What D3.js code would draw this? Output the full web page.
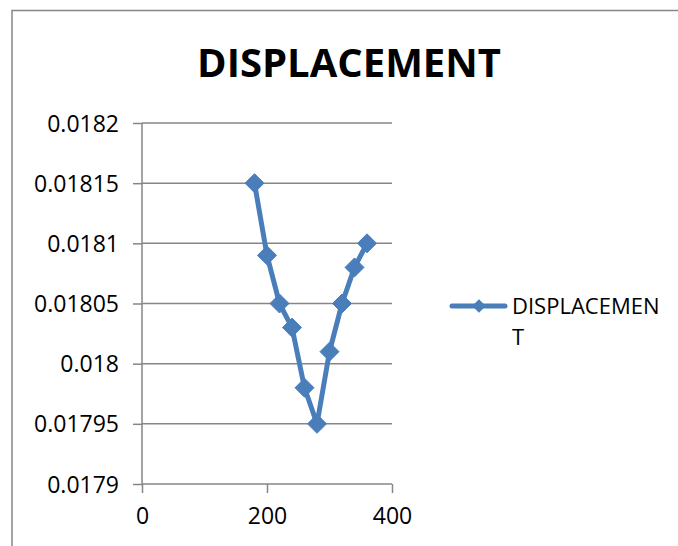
<!DOCTYPE html>
<html>
<head>
<meta charset="utf-8">
<script src="https://cdn.jsdelivr.net/npm/d3@7"></script>
<style>
  html, body { margin: 0; padding: 0; background: #fff; }
  svg { display: block; }
  text { font-family: "Open Sans", "Noto Sans", sans-serif; fill: #000; }
</style>
</head>
<body>
<script>
// Displacement readings against position
const positions = [180, 200, 220, 240, 260, 280, 300, 320, 340, 360];
const displacement = [0.01815, 0.01809, 0.01805, 0.01803, 0.01798, 0.01795, 0.01801, 0.01805, 0.01808, 0.0181];
const xTicks = [0, 200, 400];
const yTicks = [0.0179, 0.01795, 0.018, 0.01805, 0.0181, 0.01815, 0.0182];
const chartTitle = "DISPLACEMENT";
const seriesName = "DISPLACEMENT";

const W = 678, H = 546;
const svg = d3.select("body").append("svg").attr("width", W).attr("height", H);

const lineColor = "#4a7ebb";
const axisColor = "#868686";
const labelSize = "23px";

// Outer frame (top and left edges visible)
svg.append("path")
  .attr("d", `M12,${H} L12,10.5 L${W},10.5`)
  .attr("fill", "none").attr("stroke", axisColor).attr("stroke-width", 1.5);

const x = d3.scaleLinear().domain([0, 400]).range([142, 392]);
const y = d3.scaleLinear().domain([0.0179, 0.0182]).range([484, 123]);

// Title
svg.append("text")
  .attr("x", 349).attr("y", 77)
  .attr("text-anchor", "middle")
  .style("font-size", "40px").style("font-weight", "bold")
  .text(chartTitle);

// Horizontal gridlines
svg.append("g").selectAll("line").data(yTicks.slice(1)).join("line")
  .attr("x1", x(0)).attr("x2", x(400))
  .attr("y1", d => y(d)).attr("y2", d => y(d))
  .attr("stroke", axisColor).attr("stroke-width", 1.5);

// Y axis
const yAxis = svg.append("g").attr("transform", `translate(${x(0)},0)`)
  .call(d3.axisLeft(y).tickValues(yTicks).tickSize(9).tickPadding(14)
    .tickFormat(d => String(+d.toPrecision(4))));
yAxis.select(".domain").attr("stroke", axisColor).attr("stroke-width", 1.5).attr("d", `M0,${y(0.0179)}V${y(0.0182)}`);
yAxis.selectAll(".tick line").attr("stroke", axisColor).attr("stroke-width", 1.5);
yAxis.selectAll(".tick text").style("font-size", labelSize).style("font-family", "'Open Sans', sans-serif").attr("fill", "#000").attr("dy", "0.35em");

// X axis
const xAxis = svg.append("g").attr("transform", `translate(0,${y(0.0179)})`)
  .call(d3.axisBottom(x).tickValues(xTicks).tickSize(9).tickPadding(15).tickFormat(d3.format("d")));
xAxis.select(".domain").attr("stroke", axisColor).attr("stroke-width", 1.5).attr("d", `M${x(0)},0H${x(400)}`);
xAxis.selectAll(".tick line").attr("stroke", axisColor).attr("stroke-width", 1.5);
xAxis.selectAll(".tick text").style("font-size", labelSize).style("font-family", "'Open Sans', sans-serif").attr("fill", "#000");

// Series line
const pts = positions.map((p, i) => [p, displacement[i]]);
svg.append("path")
  .datum(pts)
  .attr("fill", "none").attr("stroke", lineColor).attr("stroke-width", 5)
  .attr("stroke-linejoin", "round").attr("stroke-linecap", "round")
  .attr("d", d3.line().x(d => x(d[0])).y(d => y(d[1])));

// Diamond markers
const diamond = r => `M0,${-r}L${r},0L0,${r}L${-r},0Z`;
svg.append("g").selectAll("path").data(pts).join("path")
  .attr("transform", d => `translate(${x(d[0])},${y(d[1])})`)
  .attr("d", diamond(9.5))
  .attr("fill", lineColor).attr("stroke", lineColor).attr("stroke-width", 1).attr("stroke-linejoin", "round");

// Legend
const lg = svg.append("g");
lg.append("line").attr("x1", 452).attr("x2", 505).attr("y1", 306).attr("y2", 306)
  .attr("stroke", lineColor).attr("stroke-width", 5).attr("stroke-linecap", "round");
lg.append("path").attr("transform", "translate(479,306)").attr("d", diamond(6.8)).attr("fill", lineColor);
const lt = lg.append("text").attr("x", 512).attr("y", 314).style("font-size", "22px");
lt.append("tspan").attr("x", 512).attr("y", 314).text(seriesName.slice(0, 11));
lt.append("tspan").attr("x", 512).attr("y", 345).text(seriesName.slice(11));
</script>
</body>
</html>
